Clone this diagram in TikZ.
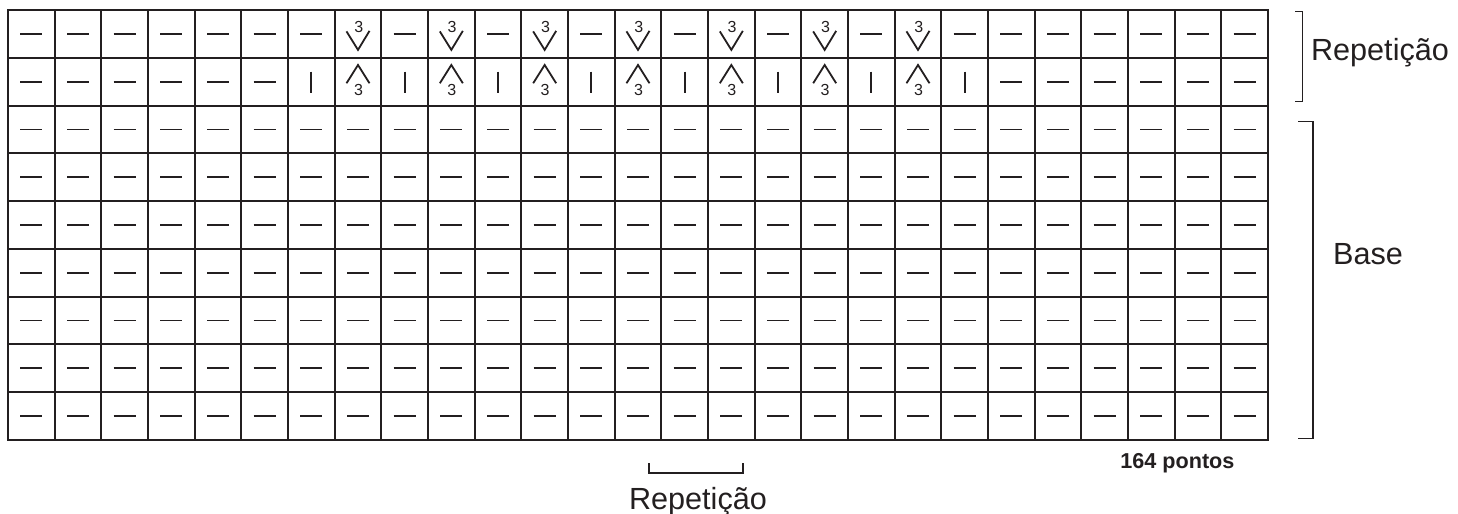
\documentclass[tikz,border=0pt]{standalone}
\usepackage{fontspec}
\setmainfont{Liberation Sans}
\usepackage{tikz}
\usetikzlibrary{positioning}
\definecolor{ChartInk}{HTML}{231F20}

\tikzset{
  knit/.pic={\draw[sym] (-11,0) -- (11,0);},
  purl/.pic={\draw[sym] (0,-10) -- (0,11);},
  dec3/.pic={\draw[sym] (-11.5,-2.5) -- (0,16) -- (11.5,-3);
    \node[num] (-n) at (0.8,-7) {3};},
  inc3/.pic={\draw[sym] (-11.5,1.6) -- (0,-16.7) -- (11.5,1.6);
    \node[num] (-n) at (0.5,8.3) {3};}
}

\begin{document}
\begin{tikzpicture}[x=0.5pt,y=-0.5pt,
  gridline/.style={draw=ChartInk,line width=1pt,line cap=rect},
  sym/.style={draw=ChartInk,line width=0.9pt},
  num/.style={font=\fontsize{8}{9}\selectfont,text=ChartInk,inner sep=0pt},
  bracket/.style={draw=ChartInk,line width=0.7pt},
  lbl/.style={font=\fontsize{15.3}{18}\selectfont,text=ChartInk,inner sep=0pt}]
  \useasboundingbox (0,0) rectangle (1458,514);
  % grid 27 x 9
  \foreach \c in {0,...,27}
    \draw[gridline] ({8+\c*46.667},10) -- ({8+\c*46.667},440);
  \foreach \r in {0,...,9}
    \draw[gridline] (8,{10+\r*47.778}) -- (1268,{10+\r*47.778});
  % row 1
  \foreach \c in {1,2,3,4,5,6,7,9,11,13,15,17,19,21,22,23,24,25,26,27}
    \pic at ({8+(\c-0.5)*46.667},{10+0.5*47.778}) {knit};
  \foreach \c in {8,10,...,20}
    \pic (v\c) at ({8+(\c-0.5)*46.667},{10+0.5*47.778}) {dec3};
  % row 2
  \foreach \c in {1,...,6,22,23,24,25,26,27}
    \pic at ({8+(\c-0.5)*46.667},{10+1.5*47.778}) {knit};
  \foreach \c in {7,9,...,21}
    \pic at ({8+(\c-0.5)*46.667},{10+1.5*47.778}) {purl};
  \foreach \c in {8,10,...,20}
    \pic (a\c) at ({8+(\c-0.5)*46.667},{10+1.5*47.778}) {inc3};
  % rows 3-9
  \foreach \r in {3,...,9}
    \foreach \c in {1,...,27}
      \pic at ({8+(\c-0.5)*46.667},{10+(\r-0.5)*47.778}) {knit};
  % brackets
  \coordinate (rtop) at (1302.7,11.7);
  \coordinate (rbot) at (1302.7,101.7);
  \draw[bracket] ([xshift=-3.8pt]rtop) -- (rtop) -- (rbot) -- ([xshift=-3.8pt]rbot);
  \coordinate (btop) at (1313,121.7);
  \coordinate (bbot) at (1313,438.3);
  \draw[bracket] ([xshift=-7.4pt]btop) -- (btop) -- (bbot) -- ([xshift=-7.4pt]bbot);
  \coordinate (hleft) at (649,473);
  \coordinate (hright) at (743,473);
  \draw[bracket] ([yshift=5pt]hleft) -- (hleft) -- (hright) -- ([yshift=5pt]hright);
  % labels
  \node[lbl,anchor=base west] (reptop) at (1310.7,61) {Repetição};
  \node[lbl,anchor=base west] (base) at (1332.7,264.3) {Base};
  \node[lbl,anchor=base] (repbot) at (698,509) {Repetição};
  \node[font=\bfseries\fontsize{10.8}{13}\selectfont,text=ChartInk,inner sep=0pt,anchor=base west] (count) at (1120,468.3) {164 pontos};
\end{tikzpicture}
\end{document}
